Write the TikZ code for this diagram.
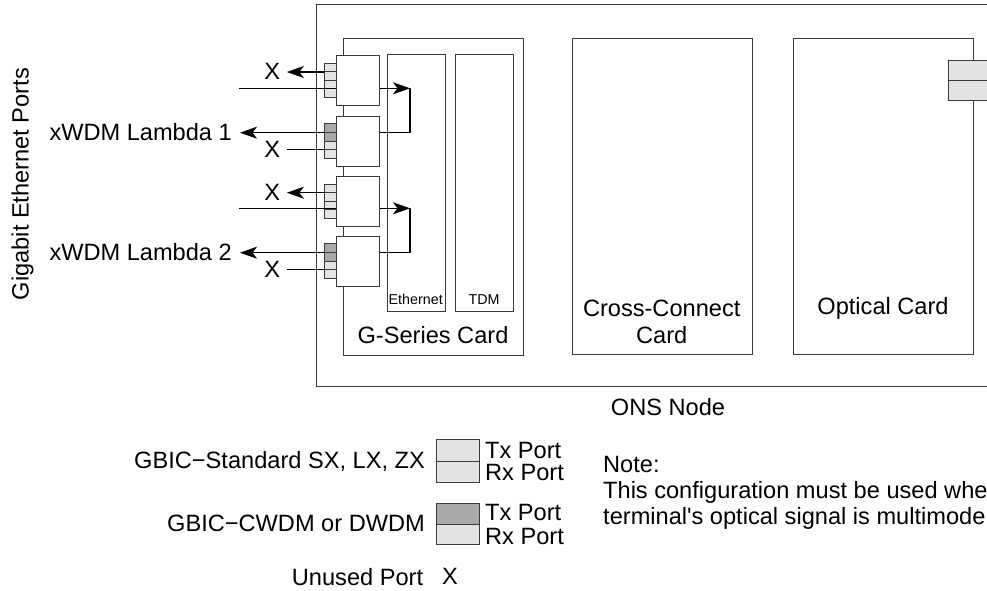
\documentclass[tikz,border=0pt]{standalone}
\usepackage{fontspec}
\setmainfont{Liberation Sans}[Ligatures=TeXOff]
\usetikzlibrary{arrows.meta}
\definecolor{lg}{HTML}{E4E4E4}
\definecolor{dg}{HTML}{A9A9A9}
\definecolor{edge}{HTML}{3A3A3A}
\begin{document}
\begin{tikzpicture}[x=1pt,y=-1pt,
  box/.style={draw=edge, line width=0.9pt, fill=white, inner sep=0pt, anchor=north west},
  cell/.style={draw=edge, line width=0.7pt, fill=lg, inner sep=0pt, minimum width=11.4pt, minimum height=8.5pt, anchor=north west},
  lbl/.style={font=\fontsize{23.6}{27}\selectfont, inner sep=0pt},
  sm/.style={font=\fontsize{14.3}{16}\selectfont, inner sep=0pt},
  xl/.style={lbl, inner xsep=6.5pt, inner ysep=0pt},
  wire/.style={line width=1.3pt, black},
  arr/.style={wire, -{Stealth[length=17pt,width=12pt,inset=4.5pt]}},
]
\useasboundingbox (0,0) rectangle (987,590);
\clip (0,0) rectangle (987,590);
\fill[white] (0,0) rectangle (987,590);

% ONS node outer box
\node[box, minimum width=720pt, minimum height=382.2pt] (ons) at (315.5,3.5) {};
\node[lbl] (onslbl) at (668,406.7) {ONS Node};

% G-Series card
\node[box, minimum width=180pt, minimum height=316.4pt] (gs) at (343.3,38.3) {};
\node[box, minimum width=58pt, minimum height=256.7pt] (eth) at (386.7,54.3) {};
\node[box, minimum width=58pt, minimum height=256.7pt] (tdm) at (455,54.3) {};
\node[sm] (ethlbl) at (415.7,299.3) {Ethernet};
\node[sm] (tdmlbl) at (484,299.3) {TDM};
\node[lbl] (gslbl) at (433,335) {G-Series Card};

% Cross-Connect card
\node[box, minimum width=180pt, minimum height=316pt] (xc) at (571.7,38.3) {};
\node[lbl, align=center] (xclbl) at (661.7,321.5) {Cross-Connect\\Card};

% Optical card
\node[box, minimum width=180.6pt, minimum height=316pt] (oc) at (792.7,38.3) {};
\node[lbl] (oclbl) at (883,308) {Optical Card};
\node[box, fill=lg, minimum width=60pt, minimum height=20pt] (optx) at (947.7,60) {};
\node[box, fill=lg, minimum width=60pt, minimum height=20.3pt] (oprx) at (947.7,80) {};

% GBIC modules and their ports
\foreach \i/\T in {1/55,2/115.7,3/175.7,4/235.7}{
  \node[box, minimum width=43pt, minimum height=50.3pt] (m\i) at (335.7,\T) {};
  \foreach \j in {1,...,4}{
    \node[cell] (c\i\j) at (324.3,{\T+7.8+(\j-1)*8.5}) {};
  }
}
\foreach \i in {2,4}{
  \fill[dg] (c\i1.north west) rectangle (c\i2.south east);
  \draw[edge, line width=0.7pt] (c\i1.north west) rectangle (c\i1.south east);
  \draw[edge, line width=0.7pt] (c\i2.north west) rectangle (c\i2.south east);
}

% labels on the left
\node[lbl, rotate=90] (gep) at (22.5,184) {Gigabit Ethernet Ports};
\node[lbl, anchor=east, inner xsep=8pt] (lam1) at (240,132) {xWDM Lambda 1};
\node[lbl, anchor=east, inner xsep=8pt] (lam2) at (240,252) {xWDM Lambda 2};
\node[xl] (x1) at (272.3,71.3) {X};
\node[xl] (x2) at (272.3,149) {X};
\node[xl] (x3) at (272.3,192) {X};
\node[xl] (x4) at (272.3,269) {X};

% pair 1
\draw[arr] (c11.south west) -- (x1.east |- c11.south west);
\coordinate (in1) at (239,88.3);
\draw[wire] (in1) -- (m1.west |- in1);
\coordinate (lp1) at (410,88.3);
\draw[arr] (m1.east |- in1) -- (lp1);
\draw[wire] (lp1) -- (lp1 |- c21.south west) -- (m2.east |- c21.south west);
\draw[arr] (c21.south west) -- (lam1.east |- c21.south west);
\draw[wire] (c23.south west) -- (x2.east |- c23.south west);

% pair 2
\draw[arr] (c31.south west) -- (x3.east |- c31.south west);
\coordinate (in3) at (239,208.3);
\draw[wire] (in3) -- (m3.west |- in3);
\coordinate (lp3) at (410,208.3);
\draw[arr] (m3.east |- in3) -- (lp3);
\draw[wire] (lp3) -- (lp3 |- c41.south west) -- (m4.east |- c41.south west);
\draw[arr] (c41.south west) -- (lam2.east |- c41.south west);
\draw[wire] (c43.south west) -- (x4.east |- c43.south west);

% legend
\node[lbl, anchor=east] (lgs) at (425,461.7) {GBIC−Standard SX, LX, ZX};
\node[box, fill=lg, minimum width=43pt, minimum height=21.7pt] (lsx) at (436,439) {};
\node[box, fill=lg, minimum width=43pt, minimum height=21pt] (lsr) at (436,460.7) {};
\node[lbl, anchor=west] (tx1) at (485,450) {Tx Port};
\node[lbl, anchor=west] (rx1) at (485,472.7) {Rx Port};

\node[lbl, anchor=east] (lgc) at (425,523.3) {GBIC−CWDM or DWDM};
\node[box, fill=dg, minimum width=43pt, minimum height=20.8pt] (lcx) at (436,502.7) {};
\node[box, fill=lg, minimum width=43pt, minimum height=20.8pt] (lcr) at (436,523.5) {};
\node[lbl, anchor=west] (tx2) at (485,512.7) {Tx Port};
\node[lbl, anchor=west] (rx2) at (485,536) {Rx Port};

\node[lbl, anchor=east] (unu) at (423.3,576.7) {Unused Port};
\node[lbl] (unx) at (450,576.7) {X};

% note
\node[lbl, anchor=north west, align=left, font=\fontsize{23.6}{26}\selectfont] (note) at (603,456) {Note:\\This configuration must be used whe\\terminal's optical signal is multimode};
\end{tikzpicture}
\end{document}
